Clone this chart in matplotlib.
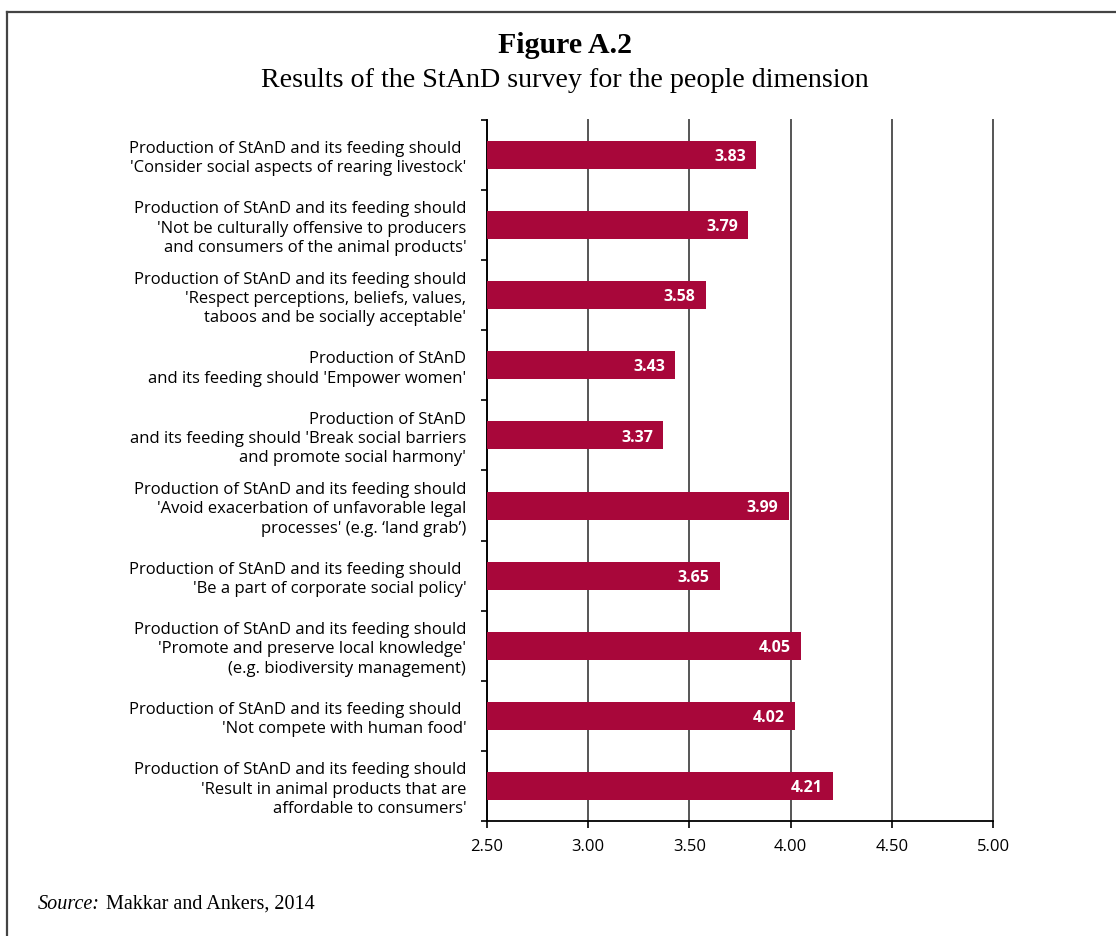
import matplotlib
matplotlib.use('Agg')
import matplotlib.pyplot as plt
from matplotlib.lines import Line2D
import numpy as np

labels = [
    "Production of StAnD and its feeding should \n'Consider social aspects of rearing livestock'",
    "Production of StAnD and its feeding should\n'Not be culturally offensive to producers\nand consumers of the animal products'",
    "Production of StAnD and its feeding should\n'Respect perceptions, beliefs, values,\ntaboos and be socially acceptable'",
    "Production of StAnD\nand its feeding should 'Empower women'",
    "Production of StAnD\nand its feeding should 'Break social barriers\nand promote social harmony'",
    "Production of StAnD and its feeding should\n'Avoid exacerbation of unfavorable legal\nprocesses' (e.g. \u2018land grab\u2019)",
    "Production of StAnD and its feeding should \n'Be a part of corporate social policy'",
    "Production of StAnD and its feeding should\n'Promote and preserve local knowledge'\n(e.g. biodiversity management)",
    "Production of StAnD and its feeding should \n'Not compete with human food'",
    "Production of StAnD and its feeding should\n'Result in animal products that are\naffordable to consumers'",
]
scores = [3.83, 3.79, 3.58, 3.43, 3.37, 3.99, 3.65, 4.05, 4.02, 4.21]
xticks = [2.5, 3.0, 3.5, 4.0, 4.5, 5.0]

bar_color = '#a8073a'
sans = 'Open Sans'
serif = 'Liberation Serif'

fig = plt.figure(figsize=(11.16, 9.36), dpi=100)
ax = fig.add_axes([0.4364, 0.1229, 0.4534, 0.7489])

y = np.arange(len(scores))
xmin = xticks[0]
ax.barh(y, np.array(scores) - xmin, left=xmin, height=0.4, color=bar_color, zorder=3)
for yi, v in zip(y, scores):
    ax.text(v - 0.05, yi + 0.03, f'{v:.2f}', ha='right', va='center', color='white',
            fontsize=11.5, fontweight='bold', family=sans, zorder=4)

ax.set_xlim(xticks[0], xticks[-1])
ax.set_ylim(len(scores) - 0.5, -0.5)
ax.set_xticks(xticks)
ax.set_xticklabels([f'{t:.2f}' for t in xticks], fontsize=12, family=sans)
ax.set_yticks(y)
ax.set_yticklabels(labels, fontsize=12, family=sans, linespacing=1.28)
ax.set_yticks(np.arange(len(scores) + 1) - 0.5, minor=True)
ax.tick_params(axis='y', which='major', length=0, pad=15)
ax.tick_params(axis='y', which='minor', length=4, width=1.2, color='black')
ax.tick_params(axis='x', length=5, width=1.2, pad=8)

ax.grid(axis='x', color='#555555', linewidth=1.4, zorder=0)
for gl in ax.get_xgridlines():
    gl.set_clip_on(False)
for s in ['top', 'right']:
    ax.spines[s].set_visible(False)
ax.spines['left'].set_linewidth(1.3)
ax.spines['bottom'].set_linewidth(1.3)

fig.text(0.5063, 0.951, 'Figure A.2', ha='center', va='center',
         fontsize=21.5, fontweight='bold', family=serif)
fig.text(0.5063, 0.914, 'Results of the StAnD survey for the people dimension',
         ha='center', va='center', fontsize=20.2, family=serif)

# source line: italic "Source:" followed by plain text
src = fig.text(0.034, 0.029, 'Source:', ha='left', va='baseline', fontsize=14.5,
               family=serif, style='italic')
renderer = fig.canvas.get_renderer()
bb = src.get_window_extent(renderer).transformed(fig.transFigure.inverted())
fig.text(bb.x1 + 0.005, 0.029, 'Makkar and Ankers, 2014', ha='left', va='baseline',
         fontsize=14.5, family=serif)

# frame lines at top and left
fig.add_artist(Line2D([7 / 1116, 1.0], [1 - 12 / 936, 1 - 12 / 936],
                      transform=fig.transFigure, color='#444444', linewidth=1.6))
fig.add_artist(Line2D([7 / 1116, 7 / 1116], [0.0, 1 - 12 / 936],
                      transform=fig.transFigure, color='#444444', linewidth=1.6))

fig.savefig('out.png', dpi=100)
